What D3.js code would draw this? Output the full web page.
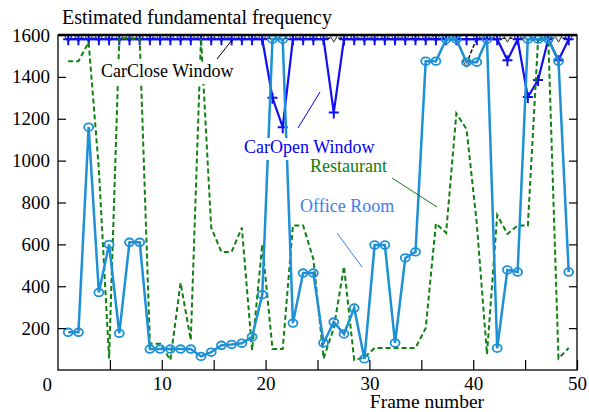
<!DOCTYPE html>
<html>
<head>
<meta charset="utf-8">
<script src="https://cdn.jsdelivr.net/npm/d3@7"></script>
<style>
  body { margin: 0; background: #fff; }
  text { font-family: "Liberation Serif", "Times New Roman", serif; }
</style>
</head>
<body>
<div id="chart"></div>
<script>
// Constants
var width = 589;
var height = 412;
var margin = {left: 58, right: 12, top: 35, bottom: 42};

// Frame positions (50 analysis frames, slightly less than 1 unit apart)
var frameStep = 0.984;
var frames = d3.range(1, 51).map(function(k) { return k * frameStep; });

// Estimated f0 per frame for each noise condition
var carClose = [1585,1585,1585,1585,1585,1585,1585,1585,1585,1585,
                1585,1585,1585,1585,1585,1585,1585,1585,1585,1585,
                1585,1585,1585,1585,1585,1585,1585,1585,1585,1585,
                1585,1585,1585,1585,1585,1585,1585,1585,1585,1465,
                1585,1585,1585,1585,1585,1585,1585,1585,1585,1585];
var carOpen = [1580,1580,1580,1580,1580,1580,1580,1580,1580,1580,
               1580,1580,1580,1580,1580,1580,1580,1580,1580,1580,
               1300,1160,1580,1580,1580,1580,1230,1580,1580,1580,
               1580,1580,1580,1580,1580,1580,1580,1580,1580,1580,
               1580,1580,1580,1480,1580,1304,1385,1580,1480,1580];
var restaurant = [1475,1475,1565,960,55,1585,1585,1580,125,125,
                  48,416,143,1585,680,564,564,680,95,600,
                  100,100,690,690,530,55,200,495,48,60,
                  105,105,105,105,105,200,700,655,1225,1150,
                  700,75,740,650,690,690,1575,1585,55,105];
var office = [180,180,1160,370,600,175,610,610,100,100,
              100,100,100,65,85,118,122,128,158,360,
              1580,1580,224,463,463,129,229,172,296,53,
              597,597,129,535,564,1475,1475,1580,1580,1470,
              1470,1580,104,478,468,1580,1580,1580,1475,468];

// Ticks
var xTicks = [5, 10, 15, 20, 25, 30, 35, 40, 45, 50];
var yTicks = [200, 400, 600, 800, 1000, 1200, 1400, 1600];

// Colours
var cClose = "#111111";
var cOpen = "#1010f0";
var cRest = "#108010";
var cOffice = "#1e90d6";
var cOfficeText = "#3d7ef5";

var svg = d3.select("#chart")
  .append("svg")
    .attr("width", width)
    .attr("height", height);

var x = d3.scaleLinear().domain([0, 50]).range([margin.left, width - margin.right]);
var y = d3.scaleLinear().domain([0, 1600]).range([height - margin.bottom, margin.top]);

function series(vals) {
  return vals.map(function(v, i) { return [frames[i], v]; });
}

var line = d3.line()
  .x(function(d) { return x(d[0]); })
  .y(function(d) { return y(d[1]); });

// Car, window closed: dashed black with down triangles
svg.append("path")
  .datum(series(carClose))
  .attr("d", line)
  .attr("fill", "none")
  .attr("stroke", cClose)
  .attr("stroke-width", 1.5)
  .attr("stroke-dasharray", "4,2");

svg.append("g").selectAll("path")
  .data(series(carClose))
  .enter().append("path")
    .attr("transform", function(d) { return "translate(" + x(d[0]) + "," + y(d[1]) + ")"; })
    .attr("d", "M-4,-3L4,-3L0,4Z")
    .attr("fill", "#e8e8e8")
    .attr("stroke", "#333")
    .attr("stroke-width", 1);

// Car, window open: blue with plus markers
svg.append("path")
  .datum(series(carOpen))
  .attr("d", line)
  .attr("fill", "none")
  .attr("stroke", cOpen)
  .attr("stroke-width", 2.2);

svg.append("g").selectAll("path")
  .data(series(carOpen))
  .enter().append("path")
    .attr("transform", function(d) { return "translate(" + x(d[0]) + "," + y(d[1]) + ")"; })
    .attr("d", "M-5,0L5,0M0,-5L0,6")
    .attr("stroke", cOpen)
    .attr("stroke-width", 2);

// Restaurant: green dashed
svg.append("path")
  .datum(series(restaurant))
  .attr("d", line)
  .attr("fill", "none")
  .attr("stroke", cRest)
  .attr("stroke-width", 2)
  .attr("stroke-dasharray", "5,3");

// Office room: light blue with circles
svg.append("path")
  .datum(series(office))
  .attr("d", line)
  .attr("fill", "none")
  .attr("stroke", cOffice)
  .attr("stroke-width", 2.5);

svg.append("g").selectAll("ellipse")
  .data(series(office))
  .enter().append("ellipse")
    .attr("cx", function(d) { return x(d[0]); })
    .attr("cy", function(d) { return y(d[1]); })
    .attr("rx", 4.5)
    .attr("ry", 3.8)
    .attr("fill", "none")
    .attr("stroke", cOffice)
    .attr("stroke-width", 1.8);

// Axes, ticks pointing inwards
var left = svg.append("g")
  .attr("transform", "translate(" + margin.left + ",0)")
  .call(d3.axisLeft(y).tickValues(yTicks).tickSizeInner(-8).tickSizeOuter(0).tickPadding(8)
    .tickFormat(d3.format("d")));
var right = svg.append("g")
  .attr("transform", "translate(" + (width - margin.right) + ",0)")
  .call(d3.axisRight(y).tickValues(yTicks).tickSizeInner(-8).tickSizeOuter(0).tickFormat(""));
var bottom = svg.append("g")
  .attr("transform", "translate(0," + (height - margin.bottom) + ")")
  .call(d3.axisBottom(x).tickValues(xTicks).tickSizeInner(-10).tickSizeOuter(0).tickPadding(7)
    .tickFormat(function(d) { return d % 10 === 0 ? d : ""; }));

[left, right, bottom].forEach(function(g) {
  g.select(".domain").remove();
  g.selectAll("line").attr("stroke", "#000").attr("stroke-width", 1.2);
  g.selectAll("text").attr("font-size", 19).attr("fill", "#000")
    .style("font-family", "'Liberation Serif', serif");
});

// "0" sits left of the corner
svg.append("text")
  .attr("x", 52)
  .attr("y", height - margin.bottom + 21)
  .attr("text-anchor", "end")
  .attr("font-size", 19)
  .text("0");

// Frame
svg.append("rect")
  .attr("x", margin.left)
  .attr("y", margin.top)
  .attr("width", width - margin.left - margin.right)
  .attr("height", height - margin.top - margin.bottom)
  .attr("fill", "none")
  .attr("stroke", "#000")
  .attr("stroke-width", 1.3);
svg.append("line")
  .attr("x1", margin.left).attr("x2", width - margin.right)
  .attr("y1", margin.top).attr("y2", margin.top)
  .attr("stroke", "#000").attr("stroke-width", 2.5);

// Title and axis label
svg.append("text")
  .attr("x", 62)
  .attr("y", 24)
  .attr("font-size", 20)
  .text("Estimated fundamental frequency");

svg.append("text")
  .attr("x", 427)
  .attr("y", 408)
  .attr("text-anchor", "middle")
  .attr("font-size", 19.5)
  .text("Frame number");

// Annotations with leader lines
var notes = [
  {text: "CarClose Window", color: "#000", x: 101, y: 77, lx1: 217, ly1: 59, lx2: 232, ly2: 40},
  {text: "CarOpen Window", color: "#0000ee", x: 244, y: 153, lx1: 298, ly1: 128, lx2: 320, ly2: 92},
  {text: "Restaurant", color: cRest, x: 310, y: 172, lx1: 392, ly1: 178, lx2: 437, ly2: 207},
  {text: "Office Room", color: cOfficeText, x: 300, y: 212, lx1: 337, ly1: 233, lx2: 362, ly2: 267}
];

var note = svg.append("g").selectAll("g")
  .data(notes)
  .enter().append("g");

note.append("line")
  .attr("x1", function(d) { return d.lx1; })
  .attr("y1", function(d) { return d.ly1; })
  .attr("x2", function(d) { return d.lx2; })
  .attr("y2", function(d) { return d.ly2; })
  .attr("stroke", function(d) { return d.color; })
  .attr("stroke-width", 1);

note.append("text")
  .attr("x", function(d) { return d.x; })
  .attr("y", function(d) { return d.y; })
  .attr("font-size", 18)
  .attr("fill", function(d) { return d.color; })
  .text(function(d) { return d.text; });

// White box behind each label
note.each(function() {
  var g = d3.select(this);
  var b = g.select("text").node().getBBox();
  g.insert("rect", "text")
    .attr("x", b.x - 3)
    .attr("y", b.y + 1)
    .attr("width", b.width + 6)
    .attr("height", b.height + 2)
    .attr("fill", "#fff");
});
</script>
</body>
</html>
